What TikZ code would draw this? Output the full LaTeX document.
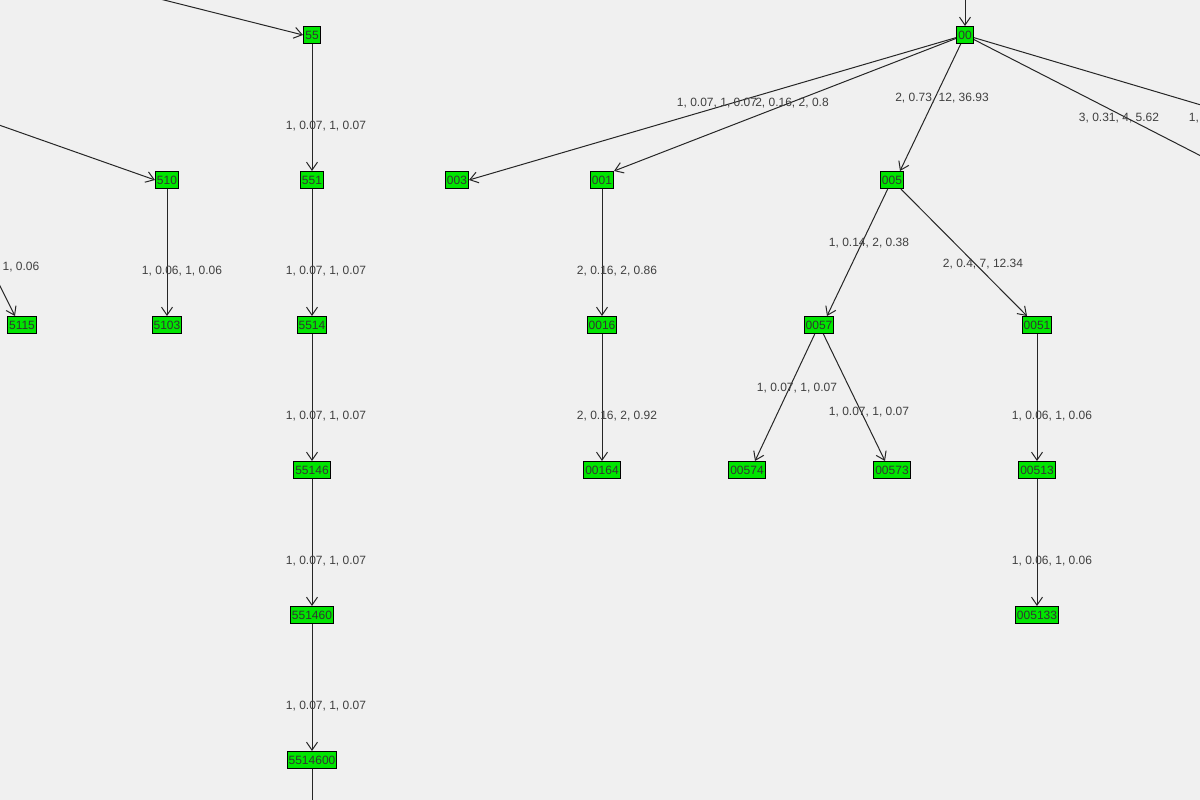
\documentclass[tikz,border=0pt]{standalone}
\usepackage{fontspec}
\setmainfont{Liberation Sans}
\usetikzlibrary{arrows.meta}
\begin{document}
\begin{tikzpicture}[x=1pt,y=-1pt,line width=1pt,
 nd/.style={draw=black,fill=green!90!black,text=black!80,font=\fontsize{12}{13}\selectfont,inner xsep=1.5pt,inner ysep=1pt,minimum height=17,minimum width=17},
 lb/.style={text=black!75,font=\fontsize{12}{13}\selectfont},
 ed/.style={draw=black!85,-{Straight Barb[length=8pt,width=11pt]}}]
\useasboundingbox[fill=black!6] (0,0) rectangle (1200,800);
\clip (0,0) rectangle (1200,800);
\node[nd] (n55) at (312,35) {55};
\node[nd] (n551) at (312,180) {551};
\node[nd] (n5514) at (312,325) {5514};
\node[nd] (n55146) at (312,470) {55146};
\node[nd] (n551460) at (312,615) {551460};
\node[nd] (n5514600) at (312,760) {5514600};
\node[nd] (n510) at (167,180) {510};
\node[nd] (n5103) at (167,325) {5103};
\node[nd] (n5115) at (22,325) {5115};
\node[nd] (n00) at (965,35) {00};
\node[nd] (n003) at (457,180) {003};
\node[nd] (n001) at (602,180) {001};
\node[nd] (n0016) at (602,325) {0016};
\node[nd] (n00164) at (602,470) {00164};
\node[nd] (n005) at (892,180) {005};
\node[nd] (n0057) at (819,325) {0057};
\node[nd] (n0051) at (1037,325) {0051};
\node[nd] (n00574) at (747,470) {00574};
\node[nd] (n00573) at (892,470) {00573};
\node[nd] (n00513) at (1037,470) {00513};
\node[nd] (n005133) at (1037,615) {005133};
\coordinate (a) at (160,-1);
\coordinate (b) at (-1,125);
\coordinate (c) at (-2,282);
\coordinate (d) at (965,-1);
\coordinate (e) at (1201,105);
\coordinate (f) at (1201,156);
\coordinate (g) at (312,801);
\draw[ed] (a) -- (n55.west);
\draw[ed] (b) -- (n510.west);
\draw[ed] (c) -- ([xshift=-7pt]n5115.north);
\draw[ed] (d) -- (n00);
\draw[draw=black!85] (n00) -- (e);
\draw[draw=black!85] (n00) -- (f);
\draw[draw=black!85] (n5514600) -- (g);
\draw[ed] (n55) -- (n551);
\draw[ed] (n551) -- (n5514);
\draw[ed] (n5514) -- (n55146);
\draw[ed] (n55146) -- (n551460);
\draw[ed] (n551460) -- (n5514600);
\draw[ed] (n510) -- (n5103);
\draw[ed] (n00) -- (n003.east);
\draw[ed] (n00) -- (n001.north east);
\draw[ed] (n00) -- ([xshift=8pt]n005.north);
\draw[ed] (n001) -- (n0016);
\draw[ed] (n0016) -- (n00164);
\draw[ed] (n005) -- ([xshift=8pt]n0057.north);
\draw[ed] (n005) -- ([xshift=-10pt]n0051.north);
\draw[ed] (n0057) -- ([xshift=8pt]n00574.north);
\draw[ed] (n0057) -- ([xshift=-7pt]n00573.north);
\draw[ed] (n0051) -- (n00513);
\draw[ed] (n00513) -- (n005133);
\node[lb] (l1) at (326,126) {1, 0.07, 1, 0.07};
\node[lb] (l2) at (326,271) {1, 0.07, 1, 0.07};
\node[lb] (l3) at (326,416) {1, 0.07, 1, 0.07};
\node[lb] (l4) at (326,561) {1, 0.07, 1, 0.07};
\node[lb] (l5) at (326,706) {1, 0.07, 1, 0.07};
\node[lb] (l6) at (182,271) {1, 0.06, 1, 0.06};
\node[lb] (l7) at (21,267) {1, 0.06};
\node[lb] (l8) at (717,103) {1, 0.07, 1, 0.07};
\node[lb] (l9) at (792,103) {2, 0.16, 2, 0.8};
\node[lb] (l10) at (942,98) {2, 0.73, 12, 36.93};
\node[lb] (l11) at (1119,118) {3, 0.31, 4, 5.62};
\node[lb,anchor=west] (l12) at (1185,118) {1,};
\node[lb] (l13) at (617,271) {2, 0.16, 2, 0.86};
\node[lb] (l14) at (617,416) {2, 0.16, 2, 0.92};
\node[lb] (l15) at (869,243) {1, 0.14, 2, 0.38};
\node[lb] (l16) at (983,264) {2, 0.4, 7, 12.34};
\node[lb] (l17) at (797,388) {1, 0.07, 1, 0.07};
\node[lb] (l18) at (869,412) {1, 0.07, 1, 0.07};
\node[lb] (l19) at (1052,416) {1, 0.06, 1, 0.06};
\node[lb] (l20) at (1052,561) {1, 0.06, 1, 0.06};
\end{tikzpicture}
\end{document}
